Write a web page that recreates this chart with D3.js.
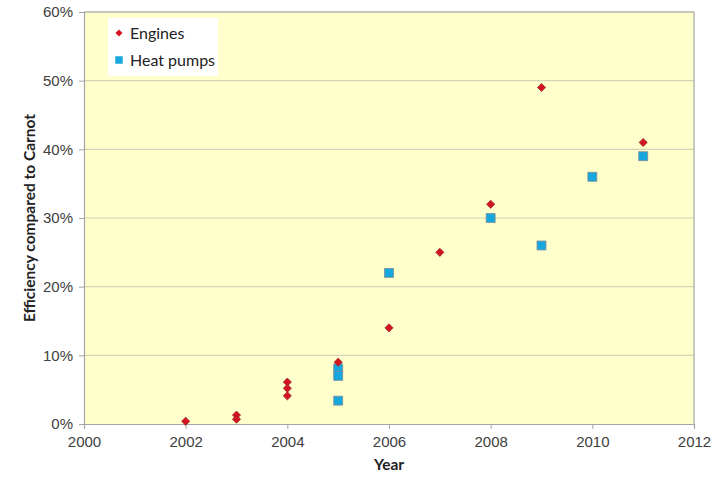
<!DOCTYPE html>
<html>
<head>
<meta charset="utf-8">
<script src="https://cdn.jsdelivr.net/npm/d3@7"></script>
<style>
  body { margin: 0; background: #fff; }
  svg { font-family: Lato, "Open Sans", sans-serif; }
</style>
</head>
<body>
<script>
const margin = {top: 12, right: 29, bottom: 53, left: 84};
const width = 723 - margin.left - margin.right, height = 477 - margin.top - margin.bottom;

// engines: year / efficiency (fraction of Carnot)
const engineYears = [2002, 2003, 2003, 2004, 2004, 2004, 2005, 2006, 2007, 2008, 2009, 2011];
const engineEff = [0.004, 0.013, 0.007, 0.061, 0.052, 0.041, 0.09, 0.14, 0.25, 0.32, 0.49, 0.41];
// heat pumps
const pumpYears = [2005, 2005, 2005, 2006, 2008, 2009, 2010, 2011];
const pumpEff = [0.081, 0.07, 0.034, 0.22, 0.30, 0.26, 0.36, 0.39];

const xTicks = [2000, 2002, 2004, 2006, 2008, 2010, 2012];
const yTicks = [0, 0.1, 0.2, 0.3, 0.4, 0.5, 0.6];
const seriesNames = ["Engines", "Heat pumps"];

const svg = d3.select("body").append("svg")
    .attr("width", 723).attr("height", 477)
    .append("g")
    .attr("transform", "translate(" + margin.left + "," + margin.top + ")");

const x = d3.scaleLinear().domain([2000, 2012]).range([0, width]);
const y = d3.scaleLinear().domain([0, 0.6]).range([height, 0]);

svg.append("rect")
    .attr("width", width).attr("height", height)
    .attr("fill", "#ffffcc");

// grid
svg.selectAll(".grid")
    .data(yTicks.slice(1))
    .enter().append("line")
    .attr("x1", 0).attr("x2", width)
    .attr("y1", d => y(d)).attr("y2", d => y(d))
    .attr("stroke", "#d4d2b8").attr("stroke-width", 1.2);

// border top/right
svg.append("path")
    .attr("d", "M0,0H" + width + "V" + height)
    .attr("fill", "none").attr("stroke", "#a6a6a6").attr("stroke-width", 1.2);

const yAxis = svg.append("g")
    .call(d3.axisLeft(y).tickValues(yTicks).tickFormat(d3.format(".0%")).tickSize(5).tickPadding(6));
const xAxis = svg.append("g")
    .attr("transform", "translate(0," + height + ")")
    .call(d3.axisBottom(x).tickValues(xTicks).tickFormat(d3.format("d")).tickSize(5).tickPadding(7));

[yAxis, xAxis].forEach(ax => {
    ax.select(".domain").attr("stroke", "#a6a6a6").attr("stroke-width", 1.2);
    ax.selectAll(".tick line").attr("stroke", "#a6a6a6");
    ax.selectAll(".tick text").attr("fill", "#404040").style("font-size", "15px");
});

svg.append("text")
    .attr("x", width / 2).attr("y", height + 46)
    .attr("text-anchor", "middle")
    .style("font-size", "15.5px").style("font-weight", "bold").attr("fill", "#222")
    .text("Year");

svg.append("text")
    .attr("transform", "translate(-49," + (height / 2) + ") rotate(-90)")
    .attr("text-anchor", "middle")
    .style("font-size", "15.5px").style("font-weight", "bold").attr("fill", "#222")
    .text("Efficiency compared to Carnot");

const diamond = d3.symbol().type(d3.symbolDiamond2).size(42);
const square = d3.symbol().type(d3.symbolSquare).size(80);

svg.selectAll(".pump")
    .data(pumpYears.map((yr, i) => ({year: yr, eff: pumpEff[i]})))
    .enter().append("path")
    .attr("d", square)
    .attr("transform", d => "translate(" + x(d.year) + "," + y(d.eff) + ")")
    .attr("fill", "#17a7df").attr("stroke", "#7d8a96").attr("stroke-width", 0.8);

svg.selectAll(".engine")
    .data(engineYears.map((yr, i) => ({year: yr, eff: engineEff[i]})))
    .enter().append("path")
    .attr("d", diamond)
    .attr("transform", d => "translate(" + x(d.year) + "," + y(d.eff) + ")")
    .attr("fill", "#d4141f").attr("stroke", "#9a2230").attr("stroke-width", 0.8);

// legend
const legend = svg.append("g").attr("transform", "translate(24,6)");
legend.append("rect")
    .attr("width", 110).attr("height", 58)
    .attr("fill", "#ffffff");
seriesNames.forEach((name, i) => {
    const g = legend.append("g").attr("transform", "translate(11," + (15 + i * 27) + ")");
    g.append("path")
        .attr("d", i === 0 ? d3.symbol().type(d3.symbolDiamond2).size(32)() : d3.symbol().type(d3.symbolSquare).size(56)())
        .attr("fill", i === 0 ? "#d4141f" : "#17a7df");
    g.append("text")
        .attr("x", 11).attr("dy", "0.35em")
        .style("font-size", "16px").attr("fill", "#222")
        .text(name);
});
</script>
</body>
</html>
